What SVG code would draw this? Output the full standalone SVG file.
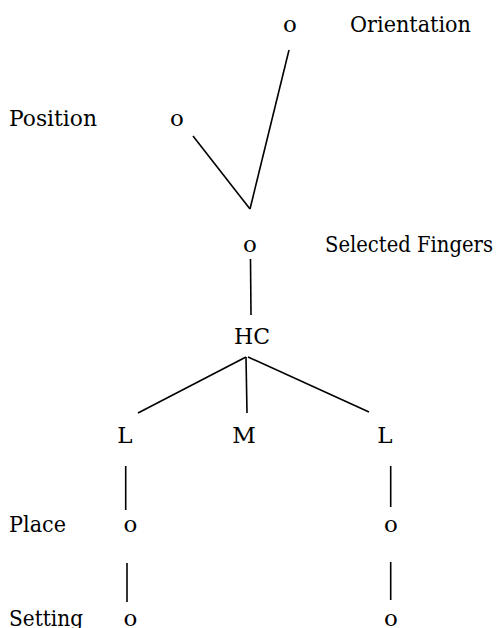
<svg xmlns="http://www.w3.org/2000/svg" width="501" height="628" viewBox="0 0 501 628">
<style>
text{font-family:'DejaVu Serif','Liberation Serif',serif;font-size:23px;fill:#000}
.n{text-anchor:middle}
.c line{stroke:#000;stroke-width:1.6;fill:none}
</style>
<rect width="501" height="628" fill="#fff"/>
<g class="c" id="connectors">
<line x1="289" y1="50" x2="250" y2="209"/>
<line x1="193" y1="136" x2="250" y2="209"/>
<line x1="250.5" y1="259" x2="251" y2="315"/>
<line x1="246" y1="357" x2="138" y2="413"/>
<line x1="246" y1="357" x2="247" y2="413"/>
<line x1="248" y1="357" x2="369" y2="412"/>
<line x1="125.7" y1="466" x2="125.7" y2="510"/>
<line x1="390.7" y1="466" x2="390.7" y2="507"/>
<line x1="127" y1="563" x2="127" y2="602"/>
<line x1="390.7" y1="562" x2="390.7" y2="600"/>
</g>
<g id="orientation"><text class="n" x="290" y="32">o</text><text x="350" y="32" textLength="121" lengthAdjust="spacingAndGlyphs">Orientation</text></g>
<g id="position"><text x="9" y="126" textLength="88" lengthAdjust="spacingAndGlyphs">Position</text><text class="n" x="177" y="126">o</text></g>
<g id="selected"><text class="n" x="250" y="252">o</text><text x="325" y="252" textLength="168" lengthAdjust="spacingAndGlyphs">Selected Fingers</text></g>
<g id="hc"><text class="n" x="252" y="344" textLength="36" lengthAdjust="spacingAndGlyphs">HC</text></g>
<g id="l1"><text class="n" x="125" y="443">L</text></g>
<g id="m"><text class="n" x="244" y="443">M</text></g>
<g id="l2"><text class="n" x="385" y="443">L</text></g>
<g id="place-label"><text x="9" y="532" textLength="57" lengthAdjust="spacingAndGlyphs">Place</text></g>
<g id="place1"><text class="n" x="130.5" y="532">o</text></g>
<g id="place2"><text class="n" x="391" y="532">o</text></g>
<g id="setting-label"><text x="9" y="626" textLength="74" lengthAdjust="spacingAndGlyphs">Setting</text></g>
<g id="setting1"><text class="n" x="130.5" y="626">o</text></g>
<g id="setting2"><text class="n" x="391" y="626">o</text></g>
</svg>
